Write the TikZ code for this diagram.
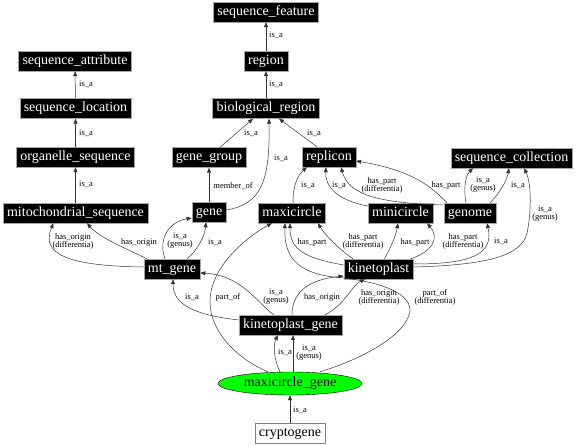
\documentclass[tikz,border=0pt]{standalone}
\usepackage{fontspec}
\setmainfont{Liberation Serif}
\usetikzlibrary{arrows.meta,shapes.geometric}

\begin{document}
\begin{tikzpicture}[x=1pt,y=-1pt,
    term/.style={rectangle,fill=black,draw=gray!70,text=white,font=\fontsize{14}{14}\selectfont,
      minimum height=20pt,inner xsep=4pt,inner ysep=0pt,text height=9.5pt,text depth=3pt},
    edge/.style={draw=black!80,line width=0.5pt,-{Triangle[length=5pt,width=4pt]}},
    lbl/.style={font=\fontsize{8.5}{8}\selectfont,align=center,inner sep=0pt}]
  \useasboundingbox (0,0) rectangle (576,446);
  % terms
  \node[term] (sf) at (266,12) {sequence\_feature};
  \node[term] (rg) at (266,61) {region};
  \node[term] (br) at (266,108.5) {biological\_region};
  \node[term] (sa) at (75,61) {sequence\_attribute};
  \node[term] (sl) at (75.5,108.5) {sequence\_location};
  \node[term] (os) at (75.5,157) {organelle\_sequence};
  \node[term] (ms) at (75.5,213) {mitochondrial\_sequence};
  \node[term] (gg) at (209,157.5) {gene\_group};
  \node[term] (ge) at (209,212) {gene};
  \node[term] (rp) at (329,157) {replicon};
  \node[term] (sc) at (511.5,158) {sequence\_collection};
  \node[term] (mx) at (292,213) {maxicircle};
  \node[term] (mn) at (400.5,213) {minicircle};
  \node[term] (gn) at (470,213) {genome};
  \node[term] (mt) at (172,269) {mt\_gene};
  \node[term] (kp) at (378.5,269) {kinetoplast};
  \node[term] (kg) at (290.5,325) {kinetoplast\_gene};
  \node[term,ellipse,draw=black,fill=green,text=black,minimum width=144pt,minimum height=23pt,inner sep=0pt] (mg) at (290,383.5) {maxicircle\_gene};
  \node[term,draw=gray,fill=white,text=black] (cg) at (290,433) {cryptogene};
  % straight is_a links
  \foreach \a/\b/\x/\y in {rg/sf/276/35,br/rg/276/84,sl/sa/86/84,os/sl/86/133,ms/os/86/184,cg/mg/300/410}
    \draw[edge] (\a) -- (\b) node[lbl] at (\x,\y) {is\_a};
  \draw[edge] ([xshift=11pt]gg.north) -- ([xshift=-13pt]br.south) node[lbl] at (251,133) {is\_a};
  \draw[edge] ([yshift=2pt]ge.east) .. controls (262,204) and (270,180) .. ([xshift=3pt]br.south) node[lbl] at (281,158) {is\_a};
  \draw[edge] ([xshift=-12pt]rp.north) -- ([xshift=13pt]br.south) node[lbl] at (314,133) {is\_a};
  \draw[edge] (ge) -- (gg) node[lbl] at (233,186) {member\_of};
  % replicon and sequence_collection
  \draw[edge] ([xshift=1pt]mx.north) .. controls (293,185) and (298,175) .. ([xshift=-22pt]rp.south) node[lbl] at (308,185) {is\_a};
  \draw[edge] ([yshift=7pt]mn.west) .. controls (335,200) and (325,185) .. ([xshift=-3pt]rp.south) node[lbl] at (339,185) {is\_a};
  \draw[edge] ([yshift=8pt]gn.west) .. controls (370,203) and (348,192) .. ([xshift=12pt]rp.south) node[lbl] at (382,185) {has\_part\\(differentia)};
  \draw[edge] ([xshift=-23pt]gn.north) .. controls (430,185) and (410,170) .. ([yshift=-4pt]rp.east) node[lbl] at (446,185) {has\_part};
  \draw[edge] ([xshift=-4pt]gn.north) .. controls (463,188) and (466,175) .. ([xshift=-38.5pt]sc.south) node[lbl] at (483,185) {is\_a\\(genus)};
  \draw[edge] ([xshift=20pt]gn.north) .. controls (500,193) and (507,180) .. ([xshift=-2.5pt]sc.south) node[lbl] at (518,185) {is\_a};
  % kinetoplast
  \draw[edge] ([yshift=2pt]kp.east) .. controls (490,265) and (522,255) .. (527,233) .. controls (531,215) and (532,185) .. ([xshift=12.5pt]sc.south) node[lbl] at (545,213.5) {is\_a\\(genus)};
  \draw[edge] ([yshift=5pt]kp.east) .. controls (470,264) and (494,255) .. ([xshift=17pt]gn.south) node[lbl] at (501,241) {is\_a};
  \draw[edge] ([xshift=-3pt]kp.north east) .. controls (432,252) and (440,238) .. ([xshift=26.5pt]mn.south) node[lbl] at (463,241) {has\_part\\(differentia)};
  \draw[edge] ([xshift=6pt]kp.north) .. controls (392,245) and (396,235) .. ([xshift=-2.5pt]mn.south) node[lbl] at (415,242) {has\_part};
  \draw[edge] ([xshift=-25.5pt]kp.north) .. controls (340,250) and (325,235) .. ([xshift=26pt]mx.south) node[lbl] at (363,241) {has\_part\\(differentia)};
  \draw[edge] ([yshift=4pt]kp.west) .. controls (305,258) and (290,250) .. ([xshift=-2pt]mx.south) node[lbl] at (312,242) {has\_part};
  % mt_gene
  \draw[edge] ([yshift=2pt]mt.west) .. controls (70,266) and (40,255) .. ([xshift=-22pt]ms.south) node[lbl] at (73,241) {has\_origin\\(differentia)};
  \draw[edge] ([xshift=-25pt]mt.north) .. controls (125,248) and (100,238) .. ([xshift=11.5pt]ms.south) node[lbl] at (139,242) {has\_origin};
  \draw[edge] ([xshift=-7pt]mt.north) .. controls (158,240) and (168,222) .. ([yshift=-6pt]ge.west) node[lbl] at (180,241) {is\_a\\(genus)};
  \draw[edge] ([xshift=15pt]mt.north) .. controls (198,250) and (205,235) .. ([xshift=-3pt]ge.south) node[lbl] at (215,242) {is\_a};
  % kinetoplast_gene
  \draw[edge] ([yshift=5pt]kg.west) .. controls (195,315) and (173,305) .. ([xshift=1pt]mt.south) node[lbl] at (192,297) {is\_a};
  \draw[edge] ([xshift=-17pt]kg.north) .. controls (255,300) and (240,275) .. ([yshift=-4pt]mt.east) node[lbl] at (276,297) {is\_a\\(genus)};
  \draw[edge] ([xshift=1.5pt]kg.north) .. controls (292,295) and (305,280) .. ([yshift=-7pt]kp.west) node[lbl] at (322,297) {has\_origin};
  \draw[edge] ([xshift=34.5pt]kg.north) .. controls (345,305) and (352,285) .. ([xshift=-13.5pt]kp.south) node[lbl] at (379,297) {has\_origin\\(differentia)};
  % maxicircle_gene
  \draw[edge] ([xshift=-10pt]mg.north) .. controls (274,360) and (273,345) .. ([xshift=-12.5pt]kg.south) node[lbl] at (285,352) {is\_a};
  \draw[edge] ([xshift=3pt]mg.north) -- ([xshift=2.5pt]kg.south) node[lbl] at (309,353) {is\_a\\(genus)};
  \draw[edge] ([xshift=-22pt]mg.north) .. controls (235,358) and (210,330) .. (210,302) .. controls (210,265) and (250,235) .. ([xshift=-20pt]mx.south) node[lbl] at (228,297) {part\_of};
  \draw[edge] ([xshift=30pt]mg.north) .. controls (365,358) and (405,335) .. (410,312) .. controls (412,290) and (370,280) .. (333,277) .. controls (295,272) and (284,255) .. ([xshift=-7pt]mx.south) node[lbl] at (435,297) {part\_of\\(differentia)};
\end{tikzpicture}
\end{document}
